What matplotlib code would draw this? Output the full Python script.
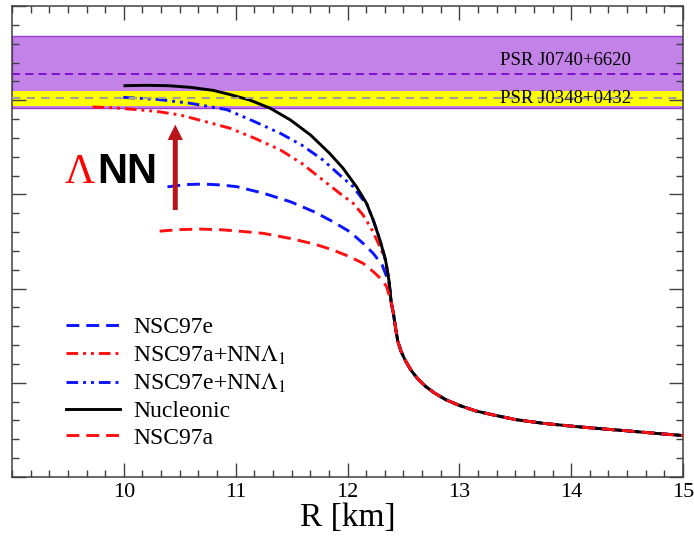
import numpy as np
import matplotlib
matplotlib.use("Agg")
import matplotlib.pyplot as plt

plt.rcParams['font.family'] = ['Liberation Serif', 'DejaVu Serif']
plt.rcParams['mathtext.fontset'] = 'stix'

# ---- data (R in km, M in solar masses) ----
# common low-mass branch (shared by all EoS)
R_low = [12.37, 12.39, 12.41, 12.43, 12.45, 12.48, 12.52, 12.57, 12.63, 12.70, 12.78, 12.88,
         13.0, 13.15, 13.3, 13.5, 13.75, 14.0, 14.25, 14.5, 14.75, 15.0]
M_low = [0.99, 0.93, 0.87, 0.79, 0.72, 0.665, 0.615, 0.565, 0.52, 0.48, 0.445, 0.41,
         0.38, 0.35, 0.33, 0.305, 0.285, 0.27, 0.257, 0.245, 0.232, 0.22]

R_nuc = [10.01, 10.2, 10.4, 10.6, 10.8, 10.95, 11.13, 11.31, 11.49, 11.67, 11.84, 11.96,
         12.08, 12.17, 12.23, 12.29, 12.34, 12.37]
M_nuc = [2.077, 2.079, 2.077, 2.068, 2.052, 2.030, 2.000, 1.957, 1.895, 1.815, 1.718, 1.639,
         1.541, 1.453, 1.364, 1.258, 1.152, 1.046]

R_e_nnl = [9.995, 10.29, 10.59, 10.92, 11.17, 11.40, 11.59, 11.78, 11.93, 12.05, 12.14]
M_e_nnl = [2.015, 2.005, 1.984, 1.95, 1.886, 1.824, 1.762, 1.683, 1.603, 1.541, 1.47]

R_a_nnl = [9.72, 9.9, 10.08, 10.3, 10.5, 10.77, 10.95, 11.17, 11.40, 11.59, 11.78, 11.93,
           12.05, 12.14, 12.22, 12.29]
M_a_nnl = [1.964, 1.96, 1.952, 1.94, 1.922, 1.88, 1.851, 1.798, 1.736, 1.665, 1.576, 1.506,
           1.453, 1.39, 1.311, 1.222]

R_e = [10.39, 10.55, 10.71, 10.87, 11.01, 11.25, 11.49, 11.70, 11.87, 12.02, 12.14, 12.23,
       12.31, 12.35]
M_e = [1.54, 1.552, 1.555, 1.55, 1.541, 1.506, 1.461, 1.408, 1.355, 1.302, 1.24, 1.187,
       1.125, 1.063]

R_a = [10.32, 10.5, 10.68, 10.85, 10.99, 11.25, 11.49, 11.70, 11.87, 12.02, 12.14, 12.23,
       12.31, 12.35]
M_a = [1.305, 1.313, 1.316, 1.313, 1.307, 1.293, 1.266, 1.237, 1.205, 1.169, 1.134, 1.09,
       1.046, 1.01]

labels = ['NSC97e', r'NSC97a+NN$\Lambda_1$', r'NSC97e+NN$\Lambda_1$', 'Nucleonic', 'NSC97a']

# pulsar constraints
psr_names = ['PSR J0740+6620', 'PSR J0348+0432']
psr_mass = [2.14, 2.01]
psr_lo = [0.18, 0.04]
psr_hi = [0.20, 0.04]


def full(Ru, Mu, join_nuc=False):
    R = list(Ru)
    M = list(Mu)
    if join_nuc:
        idx = [i for i, m in enumerate(M_nuc) if m < M[-1] - 0.01]
        R += [R_nuc[i] for i in idx]
        M += [M_nuc[i] for i in idx]
    return R + R_low[1:], M + M_low[1:]


fig = plt.figure(figsize=(6.94, 5.39), dpi=100)
ax = fig.add_axes([12/694, 62/539, 671/694, 471/539])

# bands
ax.axhspan(psr_mass[0]-psr_lo[0], psr_mass[0]+psr_hi[0], facecolor='#c282e8',
           edgecolor='#9a3ad0', lw=1.0, zorder=1)
ax.axhline(psr_mass[0], color='#8010cc', lw=1.4, dashes=(4.2, 2.6), zorder=2)
ax.axhspan(psr_mass[1]-psr_lo[1], psr_mass[1]+psr_hi[1], facecolor='#ffff00',
           edgecolor='none', zorder=1.5)
ax.axhline(psr_mass[1], color='#a0a098', lw=1.5, dashes=(4.0, 3.0), zorder=6)

lw = 2.1
dd = (4.0, 1.7, 1.0, 1.7, 1.0, 1.7)
da = (4.4, 2.4)
R, M = full(R_e, M_e, True)
ax.plot(R, M, color='#0a14ff', lw=lw, dashes=da, label=labels[0], zorder=3)
R, M = full(R_a_nnl, M_a_nnl, True)
ax.plot(R, M, color='#ff1010', lw=lw, dashes=dd, label=labels[1], zorder=3)
R, M = full(R_e_nnl, M_e_nnl, True)
ax.plot(R, M, color='#0a14ff', lw=lw, dashes=dd, label=labels[2], zorder=3)
R, M = full(R_nuc, M_nuc)
ax.plot(R, M, color='black', lw=lw, label=labels[3], zorder=4)
R, M = full(R_a, M_a, True)
ax.plot(R, M, color='#ff1010', lw=lw, dashes=da, label=labels[4], zorder=5)

# pulsar labels
ax.text(13.365, 2.21, psr_names[0], fontsize=13.5, va='center', ha='left', zorder=7)
ax.text(13.365, 2.01, psr_names[1], fontsize=13.5, va='center', ha='left', zorder=7)

# Lambda NN annotation
ax.text(9.474, 1.56, 'Λ', color='#ff0000', fontsize=30, family='Liberation Serif',
        ha='left', va='baseline', zorder=7)
ax.text(9.76, 1.56, 'NN', color='black', fontsize=30, family='Liberation Sans',
        fontweight='bold', ha='left', va='baseline', zorder=7)
ax.annotate('', xy=(10.46, 1.87), xytext=(10.46, 1.417),
            arrowprops=dict(width=3.6, headwidth=11, headlength=11, shrink=0,
                            color='#b8141a', lw=0), zorder=7)

ax.set_xlim(9, 15)
ax.set_ylim(0, 2.5)
ax.set_xticks([10, 11, 12, 13, 14, 15])
ax.xaxis.set_minor_locator(matplotlib.ticker.MultipleLocator(1/6))
ax.yaxis.set_major_locator(matplotlib.ticker.MultipleLocator(0.5))
ax.yaxis.set_minor_locator(matplotlib.ticker.MultipleLocator(0.1))
ax.tick_params(which='both', direction='in', top=True, right=True, color='#404040', width=1.0)
ax.tick_params(which='major', length=10, labelsize=16, pad=4)
ax.tick_params(which='minor', length=5)
ax.tick_params(axis='y', labelleft=False)
for s in ax.spines.values():
    s.set_color('#404040')
    s.set_linewidth(1.1)
ax.set_xlabel('R [km]', fontsize=24, labelpad=1)

leg = ax.legend(loc='lower left', bbox_to_anchor=(0.080, 0.06), frameon=False,
                fontsize=17, handlelength=2.3, handletextpad=0.55, labelspacing=0.22,
                borderpad=0, borderaxespad=0)

fig.savefig('out.png', dpi=100)
